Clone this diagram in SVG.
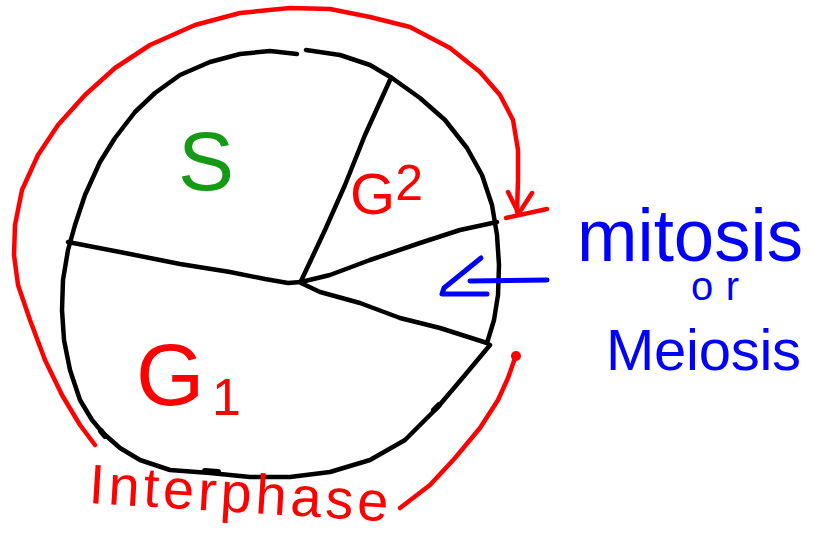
<svg xmlns="http://www.w3.org/2000/svg" width="815" height="542" viewBox="0 0 815 542">
<style>
.blk{fill:none;stroke:#000;stroke-width:4.5;stroke-linecap:round;stroke-linejoin:round}
.red{fill:none;stroke:#ff0000;stroke-width:4.5;stroke-linecap:round;stroke-linejoin:round}
.blu{fill:none;stroke:#0000ff;stroke-width:5;stroke-linecap:round;stroke-linejoin:round}
.lbl{font-family:"Liberation Sans",Arial,sans-serif}
</style>
<rect width="815" height="542" fill="#fff"/>
<g id="cell-circle">
<path class="blk" d="M297,54 L270,51 L240,54 L210,62 L180,75 L155,93 L135,112 L115,138 L100,162 L85,195 L75,225 L68,250 L63,280 L62,310 L64,340 L70,370 L80,400 L92,420 L103,433 L120,448 L140,460 L170,470 L210,473 L250,477 L290,477 L330,472 L370,460 L405,440 L437,408 L465,375 L490,345"/>
<path class="blk" d="M306,50 L340,55 L370,65 L392,78 L420,98 L445,120 L467,148 L482,175 L492,205 L497,235 L499,265 L498,295 L494,320 L487,343"/>
<path class="blk" style="stroke-width:6" d="M101,431 L105,436 M205,471 L218,472 M434,410 L439,405"/>
</g>
<g id="spokes">
<path class="blk" d="M301,282 L288,283 L265,279 L230,272 L180,264 L130,254 L68,242"/>
<path class="blk" d="M301,281 L310,262 L325,230 L345,185 L365,135 L390,80"/>
<path class="blk" d="M301,282 L330,275 L370,260 L420,243 L460,230 L497,222"/>
<path class="blk" d="M301,283 L320,292 L360,303 L400,318 L440,328 L487,343"/>
</g>
<g id="phase-labels">
<text id="label-S" class="lbl" x="178" y="190" font-size="84" fill="#169a16">S</text>
<text id="label-G2" class="lbl" x="350" y="214" font-size="58" fill="#ff0000">G<tspan dy="-14" font-size="50">2</tspan></text>
<text id="label-G1" class="lbl" x="136" y="405" font-size="88" fill="#ff0000">G<tspan x="212" y="415" font-size="52">1</tspan></text>
</g>
<g id="interphase-arrow">
<path class="red" d="M95,445 L80,425 L62,395 L45,360 L30,320 L18,285 L14,255 L15,225 L22,190 L38,155 L58,125 L85,95 L115,68 L150,45 L195,25 L240,13 L290,8 L330,9 L370,17 L410,27 L450,48 L480,72 L500,95 L513,120 L518,150 L518,180 L517,212"/>
<path class="red" d="M508,192 L518,212 M532,193 L521,210 M506,218 L547,209"/>
<circle cx="516" cy="356" r="5" fill="#ff0000"/>
<path class="red" d="M515,358 L508,378 L498,400 L480,428 L455,458 L430,485 L400,508"/>
<text id="label-interphase" class="lbl" x="88" y="503" font-size="56" fill="#ff0000" textLength="300" lengthAdjust="spacing" transform="rotate(3.5 88 503)">Interphase</text>
</g>
<g id="mitosis-arrow">
<path class="blu" d="M470,281 L547,280"/>
<path class="blu" d="M481,258 L444,288 L442,294 L487,294"/>
<text id="label-mitosis" class="lbl" x="577" y="261" font-size="74" fill="#0000ff" textLength="226" lengthAdjust="spacingAndGlyphs">mitosis</text>
<text id="label-or" class="lbl" x="691" y="300" font-size="40" fill="#0000ff" textLength="48" lengthAdjust="spacing">or</text>
<text id="label-meiosis" class="lbl" x="606" y="370" font-size="58" fill="#0000ff" textLength="195" lengthAdjust="spacing">Meiosis</text>
</g>
</svg>
